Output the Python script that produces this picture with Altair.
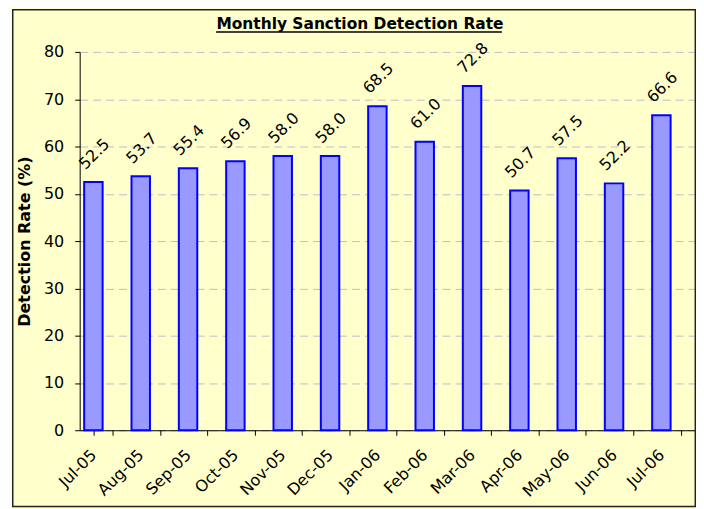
import altair as alt
import pandas as pd

months = ["Jul-05", "Aug-05", "Sep-05", "Oct-05", "Nov-05", "Dec-05", "Jan-06",
          "Feb-06", "Mar-06", "Apr-06", "May-06", "Jun-06", "Jul-06"]
rates = [52.5, 53.7, 55.4, 56.9, 58.0, 58.0, 68.5, 61.0, 72.8, 50.7, 57.5, 52.2, 66.6]
y_ticks = [0, 10, 20, 30, 40, 50, 60, 70, 80]
title_text = "Monthly Sanction Detection Rate"
y_title = "Detection Rate (%)"

FONT = "DejaVu Sans"
W, H = 618, 380

df = pd.DataFrame({"month": months, "rate": rates,
                   "label": [f"{r:.1f}" for r in rates]})
one = pd.DataFrame({"title": [title_text]})

x = alt.X("month:N", sort=months,
          scale=alt.Scale(paddingInner=0.61, paddingOuter=0.305),
          axis=alt.Axis(title=None, labelAngle=-45, labelAlign="right",
                        labelBaseline="middle", labelOffset=-10, labelPadding=17,
                        labelOverlap=False, tickBand="extent", tickSize=5,
                        tickColor="black", domainColor="black", labelFont=FONT,
                        labelFontSize=16, labelColor="black", grid=False))
y = alt.Y("rate:Q", scale=alt.Scale(domain=[0, 80], nice=False),
          axis=alt.Axis(values=y_ticks, title=y_title, titleFont=FONT,
                        titleFontSize=16, titleFontWeight="bold", titleColor="black",
                        titlePadding=11, labelFont=FONT, labelFontSize=16,
                        labelColor="black", labelPadding=11, tickSize=5,
                        tickColor="black", domainColor="black", grid=True,
                        gridColor="#BDBDCB", gridDash=[8, 5], gridWidth=1))

strip = alt.Chart(one).mark_rect(fill="white").encode(
    x=alt.value(-72), x2=alt.value(-68), y=alt.value(-43), y2=alt.value(H + 80))
frame = alt.Chart(one).mark_rect(fillOpacity=0, stroke="#222222", strokeWidth=1.5).encode(
    x=alt.value(-67.25), x2=alt.value(W + 0.3), y=alt.value(-42.25), y2=alt.value(H + 76.7))
title = alt.Chart(one).mark_text(font=FONT, fontSize=15.5, fontWeight="bold",
                                 color="black", align="center",
                                 baseline="alphabetic").encode(
    x=alt.value(281.5), y=alt.value(-23), text="title:N")
underline = alt.Chart(one).mark_rule(color="black", strokeWidth=1.5).encode(
    x=alt.value(137), x2=alt.value(424), y=alt.value(-20))

bars = alt.Chart(df).mark_bar(fill="#9999FF", stroke="#0000FF", strokeWidth=2,
                              xOffset=-10).encode(x=x, y=y)
labels = alt.Chart(df).mark_text(angle=315, align="center", baseline="middle",
                                 dx=20.5, dy=-19, xOffset=-10, font=FONT,
                                 fontSize=16, color="black").encode(
    x=x, y=y, text="label:N")

chart = alt.layer(strip, frame, title, underline, bars, labels).properties(
    width=W, height=H,
    padding={"left": 72, "top": 43, "right": 1, "bottom": 78},
    autosize=alt.AutoSizeParams(type="none"),
).configure(background="#FFFFCC").configure_view(stroke="transparent")

chart.save("out.html", embed_options={"renderer": "svg", "actions": False})
